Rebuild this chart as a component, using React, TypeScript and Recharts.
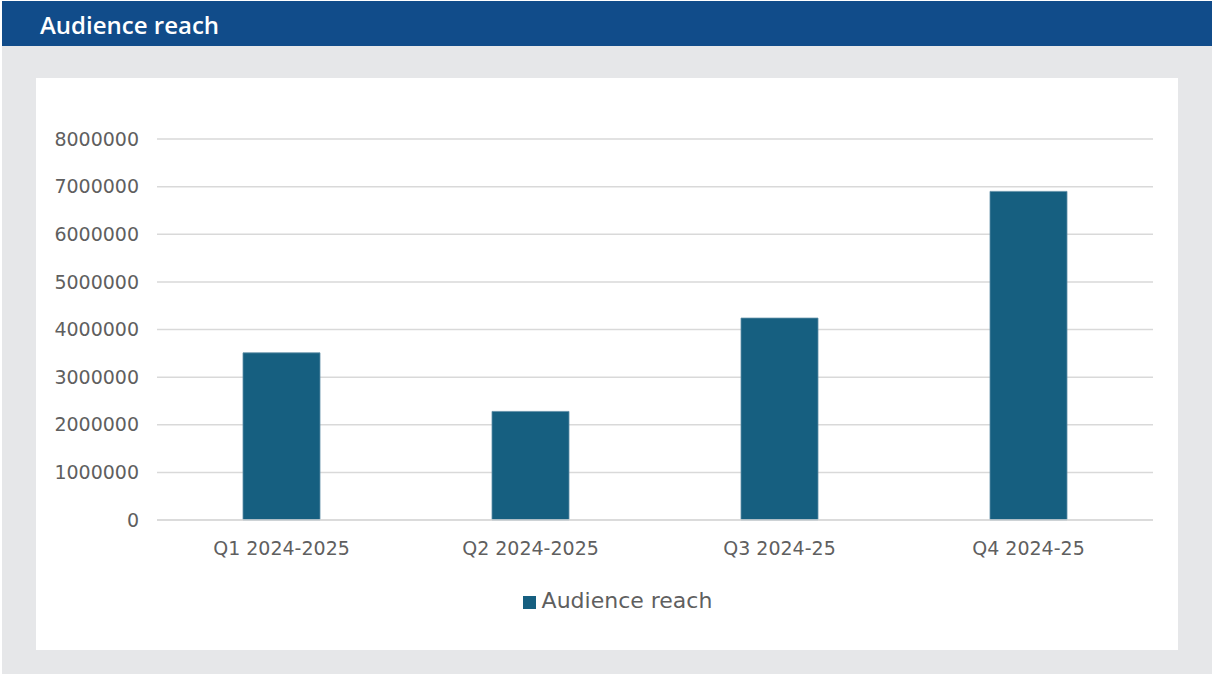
import { Bar, BarChart, CartesianGrid, Legend, XAxis, YAxis } from 'recharts';

const quarters = ['Q1 2024-2025', 'Q2 2024-2025', 'Q3 2024-25', 'Q4 2024-25'];
const reach = [3510000, 2280000, 4240000, 6900000];
const yTicks = [0, 1000000, 2000000, 3000000, 4000000, 5000000, 6000000, 7000000, 8000000];

const chartData = quarters.map((q, i) => ({ quarter: q, reach: reach[i] }));

const tickStyle = { fill: '#5f5f5f', fontSize: 19, fontFamily: 'DejaVu Sans' };

export default function App() {
  return (
    <div style={{ position: 'absolute', left: 0, top: 0, width: 1213, height: 674, background: '#fff' }}>
      <style>{'body{margin:0}'}</style>
      {/* grey card */}
      <div style={{ position: 'absolute', left: 2, top: 1, width: 1210, height: 673, background: '#e6e7e9' }} />
      {/* header bar */}
      <div
        style={{
          position: 'absolute',
          left: 2,
          top: 1,
          width: 1210,
          height: 45,
          background: '#114c8a',
          color: '#fff',
          fontFamily: 'Open Sans',
          fontWeight: 600,
          fontSize: 24,
          lineHeight: '47px',
          paddingLeft: 38,
          boxSizing: 'border-box',
        }}
      >
        Audience reach
      </div>
      {/* white chart panel */}
      <div style={{ position: 'absolute', left: 36, top: 78, width: 1142, height: 572, background: '#fff' }}>
        <BarChart width={1142} height={572} data={chartData} margin={{ top: 61, right: 25, left: 0, bottom: 0 }}>
          <CartesianGrid vertical={false} stroke="#d9d9d9" strokeWidth={1.5} />
          <XAxis
            dataKey="quarter"
            axisLine={{ stroke: '#d9d9d9', strokeWidth: 1.5 }}
            tickLine={false}
            tickSize={0}
            tickMargin={22}
            height={50}
            tick={tickStyle}
          />
          <YAxis
            width={121}
            domain={[0, 8000000]}
            ticks={yTicks}
            axisLine={false}
            tickLine={false}
            tickSize={0}
            tickMargin={18}
            tick={tickStyle}
          />
          <Legend
            verticalAlign="bottom"
            height={62}
            iconType="square"
            iconSize={13}
            wrapperStyle={{ paddingTop: 18, paddingLeft: 28, fontFamily: 'DejaVu Sans', fontSize: 22 }}
            formatter={(value) => <span style={{ color: '#5f5f5f', marginLeft: 2 }}>{value}</span>}
          />
          <Bar
            dataKey="reach"
            name="Audience reach"
            fill="#165f80"
            stroke="#5e8ea6"
            strokeWidth={0.8}
            barSize={77}
            isAnimationActive={false}
          />
        </BarChart>
      </div>
    </div>
  );
}
